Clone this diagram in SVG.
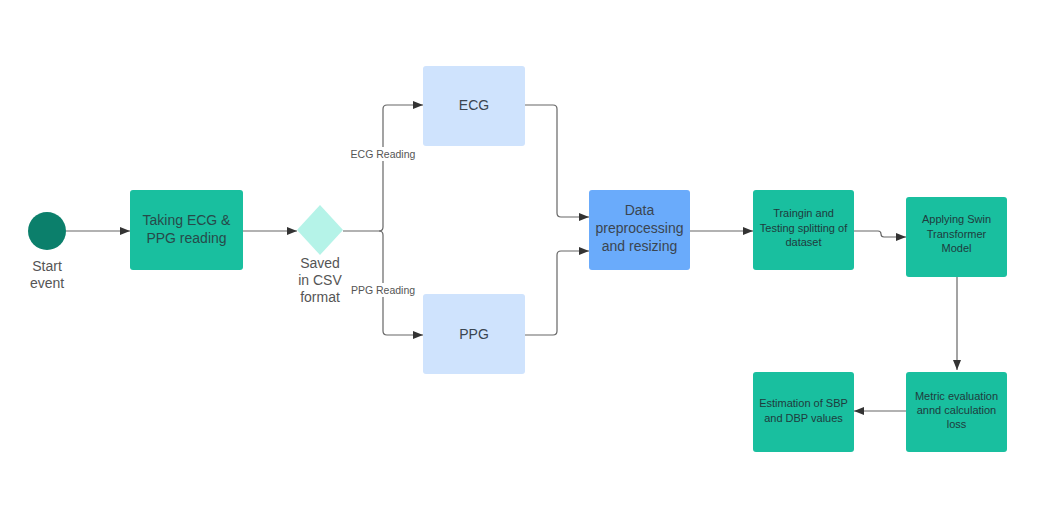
<svg xmlns="http://www.w3.org/2000/svg" width="1048" height="505" viewBox="0 0 1048 505">
<style>
text{font-family:"Liberation Sans",Arial,sans-serif;text-anchor:middle}
.teal{fill:#19bf9f}
.lbl{font-size:14px;fill:#3a4550}
.sm{font-size:11px;fill:#1f3b3d}
.md{font-size:14px;fill:#274a4a}
.cap{font-size:14px;fill:#555}
.el{font-size:10.5px;fill:#555}
.con{fill:none;stroke:#666;stroke-width:1.2}
</style>
<defs>
<marker id="ah" viewBox="0 0 10 10" refX="10" refY="5" markerWidth="10" markerHeight="10" markerUnits="userSpaceOnUse" orient="auto">
<path d="M0,1 L10,5 L0,9 z" fill="#333"/>
</marker>
</defs>
<rect width="1048" height="505" fill="#fff"/>
<g id="connectors">
<path class="con" d="M66,231 H130" marker-end="url(#ah)"/>
<path class="con" d="M243,231 H297" marker-end="url(#ah)"/>
<path class="con" d="M343,231 H379 Q383,231 383,227 V109 Q383,105 387,105 H423" marker-end="url(#ah)"/>
<path class="con" d="M379,231 Q383,231 383,235 V331 Q383,335 387,335 H423" marker-end="url(#ah)"/>
<path class="con" d="M525,105 H553 Q557,105 557,109 V213 Q557,217 561,217 H589" marker-end="url(#ah)"/>
<path class="con" d="M525,335 H553 Q557,335 557,331 V255 Q557,251 561,251 H589" marker-end="url(#ah)"/>
<path class="con" d="M690,231 H753" marker-end="url(#ah)"/>
<path class="con" d="M854,231 H878 Q881,231 881,234 Q881,237 884,237 H906" marker-end="url(#ah)"/>
<path class="con" d="M957,277 V370" marker-end="url(#ah)"/>
<path class="con" d="M906,411 H854" marker-end="url(#ah)"/>
<rect x="347" y="147" width="72" height="14" fill="#fff"/>
<rect x="347" y="283" width="72" height="14" fill="#fff"/>
<text class="el" x="383" y="158">ECG Reading</text>
<text class="el" x="383" y="294">PPG Reading</text>
</g>
<g id="start">
<circle cx="47" cy="231" r="19" fill="#0b7f6b"/>
<text class="cap" x="47" y="271">Start</text>
<text class="cap" x="47" y="288">event</text>
</g>
<g id="taking">
<rect class="teal" x="130" y="190" width="113" height="80" rx="3"/>
<text class="md" x="186.5" y="225">Taking ECG &amp;</text>
<text class="md" x="186.5" y="243">PPG reading</text>
</g>
<g id="saved">
<path d="M320,205 L343,230 L320,255 L297,230 z" fill="#b5f3e8"/>
<text class="cap" x="320" y="268">Saved</text>
<text class="cap" x="320" y="285">in CSV</text>
<text class="cap" x="320" y="302">format</text>
</g>
<g id="ecg">
<rect x="423" y="66" width="102" height="80" rx="3" fill="#cfe3fd"/>
<text class="lbl" x="474" y="110">ECG</text>
</g>
<g id="ppg">
<rect x="423" y="294" width="102" height="80" rx="3" fill="#cfe3fd"/>
<text class="lbl" x="474" y="339">PPG</text>
</g>
<g id="data">
<rect x="589" y="190" width="101" height="80" rx="3" fill="#6aabfb"/>
<text class="lbl" x="639.5" y="215">Data</text>
<text class="lbl" x="639.5" y="233">preprocessing</text>
<text class="lbl" x="639.5" y="251">and resizing</text>
</g>
<g id="split">
<rect class="teal" x="753" y="190" width="101" height="80" rx="3"/>
<text class="sm" x="803.5" y="217">Traingin and</text>
<text class="sm" x="803.5" y="232">Testing splitting of</text>
<text class="sm" x="803.5" y="246">dataset</text>
</g>
<g id="swin">
<rect class="teal" x="906" y="197" width="101" height="80" rx="3"/>
<text class="sm" x="956.5" y="223">Applying Swin</text>
<text class="sm" x="956.5" y="238">Transformer</text>
<text class="sm" x="956.5" y="252">Model</text>
</g>
<g id="metric">
<rect class="teal" x="906" y="372" width="101" height="80" rx="3"/>
<text class="sm" x="956.5" y="400">Metric evaluation</text>
<text class="sm" x="956.5" y="414">annd calculation</text>
<text class="sm" x="956.5" y="428">loss</text>
</g>
<g id="estimation">
<rect class="teal" x="753" y="372" width="101" height="80" rx="3"/>
<text class="sm" x="803.5" y="407">Estimation of SBP</text>
<text class="sm" x="803.5" y="422">and DBP values</text>
</g>
</svg>
